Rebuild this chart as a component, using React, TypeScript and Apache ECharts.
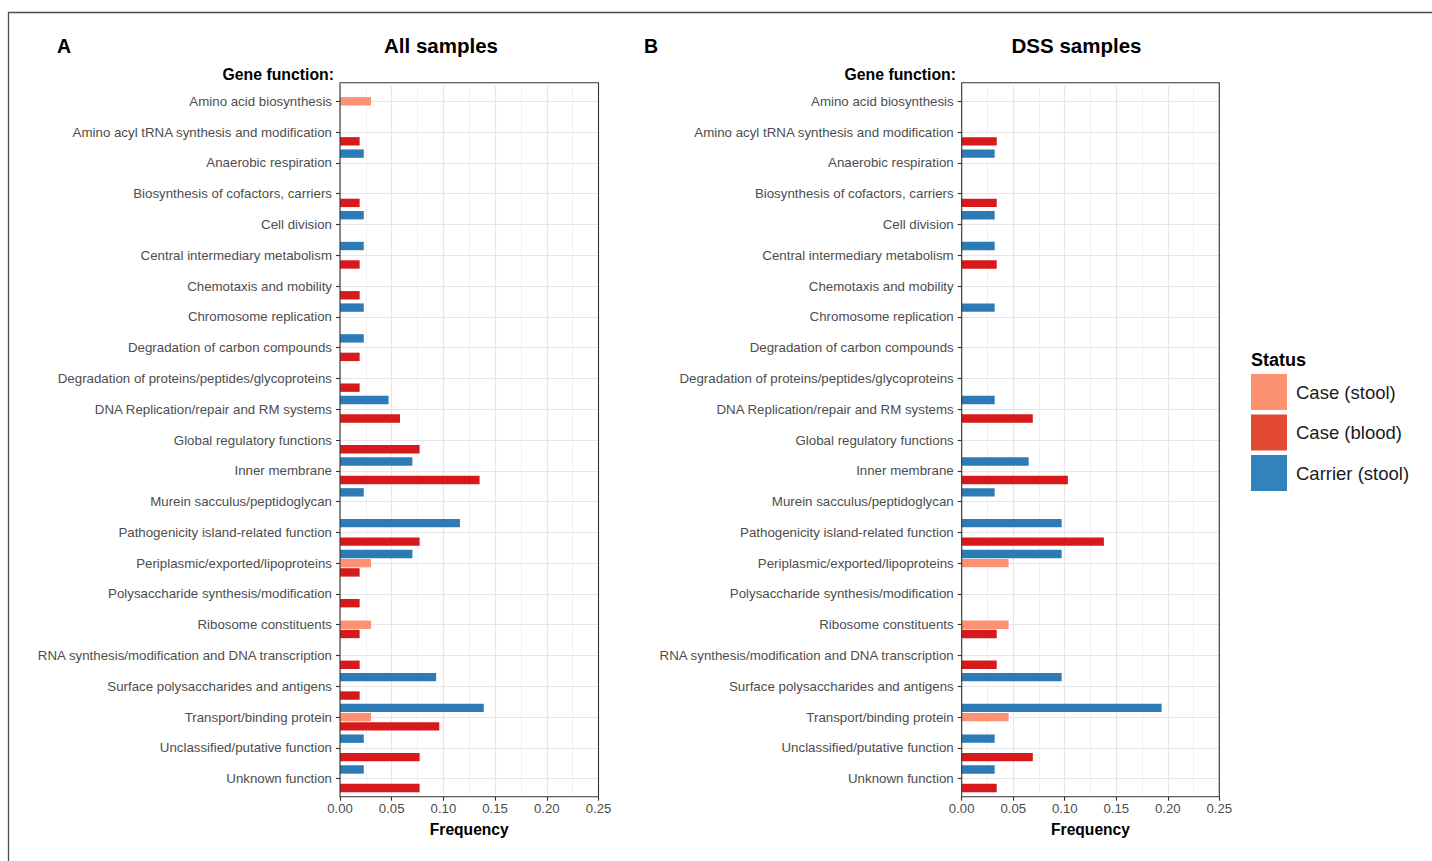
import React, { useEffect, useRef } from "react";
import * as echarts from "echarts";

const categories = [
  "Amino acid biosynthesis",
  "Amino acyl tRNA synthesis and modification",
  "Anaerobic respiration",
  "Biosynthesis of cofactors, carriers",
  "Cell division",
  "Central intermediary metabolism",
  "Chemotaxis and mobility",
  "Chromosome replication",
  "Degradation of carbon compounds",
  "Degradation of proteins/peptides/glycoproteins",
  "DNA Replication/repair and RM systems",
  "Global regulatory functions",
  "Inner membrane",
  "Murein sacculus/peptidoglycan",
  "Pathogenicity island-related function",
  "Periplasmic/exported/lipoproteins",
  "Polysaccharide synthesis/modification",
  "Ribosome constituents",
  "RNA synthesis/modification and DNA transcription",
  "Surface polysaccharides and antigens",
  "Transport/binding protein",
  "Unclassified/putative function",
  "Unknown function",
];

const statusNames = ["Case (stool)", "Case (blood)", "Carrier (stool)"];

// Panel A: All samples
const allCaseStool = [0.030, null, null, null, null, null, null, null, null, null, null, null, null, null, null, 0.030, null, 0.030, null, null, 0.030, null, null];
const allCaseBlood = [null, 0.019, null, 0.019, null, 0.019, 0.019, null, 0.019, 0.019, 0.058, 0.077, 0.135, null, 0.077, 0.019, 0.019, 0.019, 0.019, 0.019, 0.096, 0.077, 0.077];
const allCarrier = [null, null, 0.023, null, 0.023, 0.023, null, 0.023, 0.023, null, 0.047, null, 0.070, 0.023, 0.116, 0.070, null, null, null, 0.093, 0.139, 0.023, 0.023];

// Panel B: DSS samples
const dssCaseStool = [null, null, null, null, null, null, null, null, null, null, null, null, null, null, null, 0.0455, null, 0.0455, null, null, 0.0455, null, null];
const dssCaseBlood = [null, 0.034, null, 0.034, null, 0.034, null, null, null, null, 0.069, null, 0.103, null, 0.138, null, null, 0.034, 0.034, null, null, 0.069, 0.034];
const dssCarrier = [null, null, 0.032, null, 0.032, 0.032, null, 0.032, null, null, 0.032, null, 0.065, 0.032, 0.097, 0.097, null, null, null, 0.097, 0.194, 0.032, 0.032];

const xMin = 0;
const xMax = 0.25;
const xStep = 0.05;

export default function App() {
  const ref = useRef<HTMLDivElement>(null);

  useEffect(() => {
    const chart = echarts.init(ref.current!, null, { renderer: "svg" });
    const font = "'Liberation Sans', Arial, Helvetica, sans-serif";
    const barColors = { stool: "#FC9272", blood: "#D7191C", carrier: "#2C7BB6" };
    const legendColors = ["#FC9272", "#E34A33", "#3182BD"];
    const gridColor = "#e6e6e6";

    const grids = [
      { left: 340, top: 85.9, width: 258.5, height: 708.2 },
      { left: 961.7, top: 85.9, width: 257.6, height: 708.2 },
    ];

    const xAxis = (gi: number) => ({
      type: "value",
      gridIndex: gi,
      min: xMin,
      max: xMax,
      interval: xStep,
      offset: 2.6,
      name: "Frequency",
      nameLocation: "middle",
      nameGap: 25,
      nameTextStyle: { fontFamily: font, fontSize: 15.6, fontWeight: "bold", color: "#000" },
      axisLine: { show: false },
      axisTick: { show: true, length: 4, lineStyle: { color: "#333", width: 1.1 } },
      axisLabel: {
        margin: 5,
        fontSize: 13.2,
        color: "#4d4d4d",
        fontFamily: font,
        formatter: (v: number) => v.toFixed(2),
      },
      splitLine: { show: true, lineStyle: { color: gridColor, width: 1.2 } },
      minorTick: { show: false, splitNumber: 2 },
      minorSplitLine: { show: true, lineStyle: { color: gridColor, width: 0.6 } },
    });

    const yAxis = (gi: number) => ({
      type: "category",
      gridIndex: gi,
      data: categories,
      inverse: true,
      axisLine: { show: false },
      axisTick: { show: true, alignWithLabel: true, length: 4, lineStyle: { color: "#333", width: 1.1 } },
      axisLabel: { margin: 8, fontSize: 13.3, color: "#4d4d4d", fontFamily: font, interval: 0 },
      splitLine: { show: true, alignWithLabel: true, interval: 0, lineStyle: { color: gridColor, width: 1.2 } },
    });

    const bar = (name: string, data: (number | null)[], color: string, gi: number) => ({
      type: "bar",
      name,
      xAxisIndex: gi,
      yAxisIndex: gi,
      data,
      barWidth: 8.4,
      barGap: "10%",
      itemStyle: { color },
      z: 2,
    });

    const text = (t: string, x: number, y: number, size: number, align: string, extra: any = {}) => ({
      type: "text",
      x,
      y,
      silent: true,
      style: {
        text: t,
        fill: "#000",
        fontSize: size,
        fontWeight: "bold",
        fontFamily: font,
        align,
        textAlign: align,
        verticalAlign: "middle",
        textVerticalAlign: "middle",
        ...extra,
      },
    });

    const frame = (g: any) => ({
      type: "rect",
      silent: true,
      z: 10,
      shape: { x: g.left, y: 82.7, width: g.width, height: 714 },
      style: { fill: "none", stroke: "#333", lineWidth: 1.1 },
    });

    chart.setOption({
      animation: false,
      backgroundColor: "#fff",
      grid: grids,
      xAxis: [xAxis(0), xAxis(1)],
      yAxis: [yAxis(0), yAxis(1)],
      legend: {
        left: 1251,
        top: 374,
        orient: "vertical",
        itemWidth: 36,
        itemHeight: 36,
        itemGap: 4.5,
        icon: "rect",
        selectedMode: false,
        padding: 0,
        textStyle: { fontSize: 18.5, color: "#1a1a1a", fontFamily: font, padding: [0, 0, 0, 4] },
        data: statusNames.map((n, i) => ({ name: n, itemStyle: { color: legendColors[i] } })),
      },
      series: [
        bar(statusNames[2], allCarrier, barColors.carrier, 0),
        bar(statusNames[0], allCaseStool, barColors.stool, 0),
        bar(statusNames[1], allCaseBlood, barColors.blood, 0),
        bar(statusNames[2], dssCarrier, barColors.carrier, 1),
        bar(statusNames[0], dssCaseStool, barColors.stool, 1),
        bar(statusNames[1], dssCaseBlood, barColors.blood, 1),
      ],
      graphic: [
        {
          type: "rect",
          silent: true,
          z: 10,
          shape: { x: 8.5, y: 12.5, width: 1500, height: 900 },
          style: { fill: "none", stroke: "#4d4d4d", lineWidth: 1.3 },
        },
        frame(grids[0]),
        frame(grids[1]),
        text("A", 57, 46, 19.5, "left"),
        text("B", 644, 46, 19.5, "left"),
        text("All samples", 441, 45.5, 20.5, "center"),
        text("DSS samples", 1076.5, 45.5, 20.5, "center"),
        text("Gene function:", 334, 74.5, 15.8, "right"),
        text("Gene function:", 956, 74.5, 15.8, "right"),
        text("Status", 1251, 359.5, 18, "left"),
      ],
    });

    return () => chart.dispose();
  }, []);

  return <div ref={ref} style={{ position: "absolute", left: 0, top: 0, width: 1432, height: 861 }} />;
}
